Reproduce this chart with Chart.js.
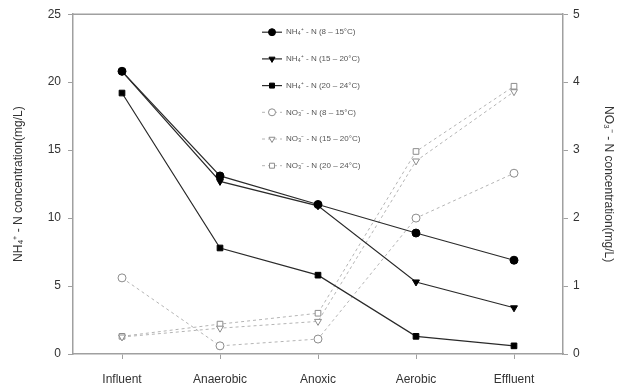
<!DOCTYPE html>
<html>
<head>
<meta charset="utf-8">
<script src="https://cdn.jsdelivr.net/npm/chart.js@4.4.0/dist/chart.umd.min.js"></script>
<style>
  body { margin: 0; background: #fff; }
  #wrap { width: 624px; height: 392px; }
</style>
</head>
<body>
<div id="wrap"><canvas id="nChart" width="624" height="392"></canvas></div>
<script>
// Kategorien (Prozessstufen)
const categories = ['Influent', 'Anaerobic', 'Anoxic', 'Aerobic', 'Effluent'];

// NH4+ - N (linke Achse, mg/L)
const nh4Low = [20.8, 13.1, 11.0, 8.9, 6.9];
const nh4Mid = [20.8, 12.7, 10.9, 5.3, 3.4];
const nh4High = [19.2, 7.8, 5.8, 1.3, 0.6];

// NO3- - N (rechte Achse, mg/L)
const no3Low = [1.12, 0.12, 0.22, 2.0, 2.66];
const no3Mid = [0.25, 0.38, 0.48, 2.84, 3.86];
const no3High = [0.26, 0.44, 0.6, 2.98, 3.94];

const leftTicks = [0, 5, 10, 15, 20, 25];
const rightTicks = [0, 1, 2, 3, 4, 5];

const seriesLabels = [
    'NH\u2084\u207A - N (8 \u2013 15\u00B0C)',
    'NH\u2084\u207A - N (15 \u2013 20\u00B0C)',
    'NH\u2084\u207A - N (20 \u2013 24\u00B0C)',
    'NO\u2083\u207B - N (8 \u2013 15\u00B0C)',
    'NO\u2083\u207B - N (15 \u2013 20\u00B0C)',
    'NO\u2083\u207B - N (20 \u2013 24\u00B0C)'
];

const axisGray = '#a0a0a0';
const solidLine = '#2a2a2a';
const dashLine = '#b4b4b4';

function nh4Set(label, data, style, rot) {
    return {
        label: label, data: data, yAxisID: 'y',
        borderColor: solidLine, borderWidth: 1.2,
        pointStyle: style, pointRotation: rot || 0, pointRadius: 4,
        pointBackgroundColor: '#000', pointBorderColor: '#000', pointBorderWidth: 1,
        tension: 0, fill: false
    };
}

function no3Set(label, data, style, rot) {
    return {
        label: label, data: data, yAxisID: 'y2',
        borderColor: dashLine, borderWidth: 1, borderDash: [3, 3],
        pointStyle: style, pointRotation: rot || 0, pointRadius: 4,
        pointBackgroundColor: '#fff', pointBorderColor: '#8c8c8c', pointBorderWidth: 1,
        tension: 0, fill: false
    };
}

// Legende im Diagramm (Linie + Marker + Text)
const innerLegend = {
    id: 'innerLegend',
    afterDatasetsDraw(chart) {
        const ctx = chart.ctx;
        const area = chart.chartArea;
        ctx.save();
        // obere Rahmenlinie
        ctx.strokeStyle = axisGray;
        ctx.lineWidth = 1.5;
        ctx.beginPath();
        ctx.moveTo(area.left, area.top);
        ctx.lineTo(area.right, area.top);
        ctx.stroke();

        chart.data.datasets.forEach((ds, i) => {
            const y = area.top + 18 + i * 26.7;
            const x0 = area.left + 189;
            ctx.strokeStyle = ds.borderColor;
            ctx.lineWidth = ds.borderWidth;
            ctx.setLineDash(ds.borderDash || []);
            ctx.beginPath();
            ctx.moveTo(x0, y);
            ctx.lineTo(x0 + 20, y);
            ctx.stroke();
            ctx.setLineDash([]);
            ctx.fillStyle = ds.pointBackgroundColor;
            ctx.strokeStyle = ds.pointBorderColor;
            ctx.lineWidth = 1;
            Chart.helpers.drawPoint(ctx, {
                pointStyle: ds.pointStyle, rotation: ds.pointRotation, radius: 3.5, borderWidth: 1
            }, x0 + 10, y);
            ctx.fillStyle = '#555';
            ctx.font = '8px "Liberation Sans", Arial, sans-serif';
            ctx.textBaseline = 'middle';
            ctx.textAlign = 'left';
            ctx.fillText(ds.label, x0 + 24, y);
        });
        ctx.restore();
    }
};

const ctx = document.getElementById('nChart').getContext('2d');
const chart = new Chart(ctx, {
    type: 'line',
    data: {
        labels: categories,
        datasets: [
            nh4Set(seriesLabels[0], nh4Low, 'circle'),
            nh4Set(seriesLabels[1], nh4Mid, 'triangle', 180),
            nh4Set(seriesLabels[2], nh4High, 'rect'),
            no3Set(seriesLabels[3], no3Low, 'circle'),
            no3Set(seriesLabels[4], no3Mid, 'triangle', 180),
            no3Set(seriesLabels[5], no3High, 'rect')
        ]
    },
    options: {
        responsive: false,
        animation: false,
        layout: { padding: { top: 12, left: 0, right: 0, bottom: 0 } },
        plugins: {
            legend: { display: false },
            tooltip: { enabled: false }
        },
        scales: {
            x: {
                type: 'category',
                offset: true,
                grid: { display: true, drawOnChartArea: false, drawTicks: true, tickLength: 5, color: axisGray, offset: false },
                border: { display: true, color: axisGray, width: 1.5 },
                ticks: { color: '#333', font: { family: 'Liberation Sans', size: 12 }, padding: 13, maxRotation: 0 },
                afterFit(scale) { scale.height = 38; }
            },
            y: {
                position: 'left',
                min: 0, max: 25,
                afterBuildTicks(scale) { scale.ticks = leftTicks.map(v => ({ value: v })); },
                grid: { display: true, drawOnChartArea: false, drawTicks: true, tickLength: 5, color: axisGray },
                border: { display: true, color: axisGray, width: 1.5 },
                ticks: { color: '#333', font: { family: 'Liberation Sans', size: 12 }, padding: 7 },
                title: {
                    display: true, text: 'NH\u2084\u207A - N concentration(mg/L)', color: '#333',
                    font: { family: 'Liberation Sans', size: 12 }, padding: { top: 11, bottom: 0 }
                },
                afterFit(scale) { scale.width = 73; }
            },
            y2: {
                position: 'right',
                min: 0, max: 5,
                afterBuildTicks(scale) { scale.ticks = rightTicks.map(v => ({ value: v })); },
                grid: { display: true, drawOnChartArea: false, drawTicks: true, tickLength: 5, color: axisGray },
                border: { display: true, color: axisGray, width: 1.5 },
                ticks: { color: '#333', font: { family: 'Liberation Sans', size: 12 }, padding: 5 },
                title: {
                    display: true, text: 'NO\u2083\u207B - N concentration(mg/L)', color: '#333',
                    font: { family: 'Liberation Sans', size: 12 }, padding: { top: 8, bottom: 0 }
                },
                afterFit(scale) { scale.width = 61; }
            }
        }
    },
    plugins: [innerLegend]
});
</script>
</body>
</html>
